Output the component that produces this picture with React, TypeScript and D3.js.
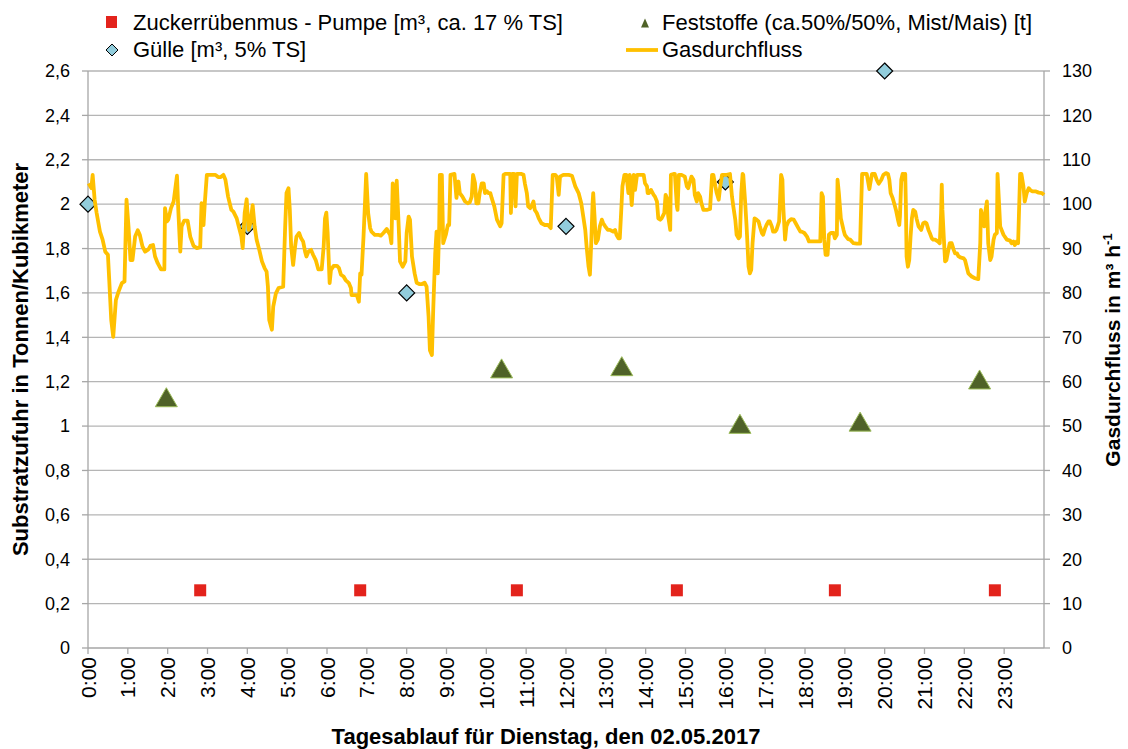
import React from "react";
import * as d3 from "d3";

// Zeit in Minuten ab 0:00
const pumpTimes = [169, 410, 646, 887, 1125, 1366];
const pumpValues = [0.26, 0.26, 0.26, 0.26, 0.26, 0.26];

const guelleTimes = [0, 240, 480, 720, 960, 1200];
const guelleValues = [2.0, 1.9, 1.6, 1.9, 2.1, 2.6];

const solidTimes = [118, 623, 804, 982, 1163, 1343];
const solidValues = [1.13, 1.26, 1.27, 1.01, 1.02, 1.21];

// Gasdurchfluss [Minute, m³/h]
const gasFlow: [number, number][] = [
  [1,104.7],[5,103.6],[7,106.6],[10,101.0],[13,98.0],[18,93.8],[22,92.0],[26,89.3],[30,88.6],[32,82.9],[35,73.9],[38,70.1],[42,78.4],[46,80.3],[51,82.2],[55,82.6],[58,101.0],[61,95.0],[64,87.4],[67,87.4],[71,92.7],[75,94.1],[78,93.1],[82,90.5],[86,89.3],[91,89.8],[94,90.6],[98,90.8],[101,88.2],[105,86.7],[110,85.3],[115,85.3],[116,99.1],[119,96.1],[121,96.5],[125,99.1],[129,100.6],[134,106.4],[136,98.7],[139,89.3],[141,95.0],[145,96.3],[150,96.3],[154,92.7],[159,90.6],[164,90.1],[169,90.3],[171,100.2],[174,95.3],[176,100.4],[179,106.6],[184,106.6],[189,106.6],[192,106.6],[196,106.1],[200,106.1],[204,106.6],[207,105.5],[211,101.7],[216,98.7],[219,98.3],[224,96.8],[227,95.0],[231,92.7],[233,90.1],[236,98.0],[239,101.1],[242,94.2],[245,96.1],[248,99.8],[251,95.0],[254,92.0],[258,89.7],[262,87.1],[266,85.6],[269,84.8],[271,81.4],[273,73.9],[277,71.7],[279,76.9],[283,79.9],[287,81.1],
  [294,81.4],[297,95.0],[299,102.5],[302,103.6],[304,98.7],[306,90.5],[309,86.3],[312,90.5],[314,92.7],[318,93.5],[321,92.3],[324,91.6],[327,89.3],[329,88.2],[332,89.3],[336,89.7],[339,88.6],[343,87.4],[347,85.3],[352,85.3],[355,90.5],[357,96.8],[359,98.1],[361,93.5],[364,82.2],[366,85.2],[370,86.1],[375,86.1],[378,85.6],[381,84.1],[385,83.7],[388,82.9],[393,82.2],[396,81.1],[397,79.5],[405,79.5],[408,78.0],[410,84.4],[412,84.1],[415,92.7],[417,99.5],[419,106.8],[422,98.0],[425,94.6],[427,93.8],[432,93.1],[437,93.1],[441,92.9],[445,93.5],[450,94.4],[455,93.1],[457,91.2],[459,104.7],[463,96.8],[465,105.3],[468,95.0],[470,87.1],[474,85.9],[478,87.1],[480,93.5],[483,97.2],[485,96.5],[488,88.2],[492,84.4],[495,82.3],[499,82.0],[503,82.0],[507,82.3],[510,81.4],[513,74.7],[515,67.1],[518,66.0],[520,76.2],[523,88.9],[525,93.8],[527,84.4],[529,95.0],[530,106.6],[533,106.6],[535,91.2],[539,93.1],[542,95.3],[544,95.3],[546,106.6],[552,106.8],[555,101.4],[558,105.1],[560,102.5],[564,101.7],[568,100.6],[572,100.2],[575,100.4],
  [578,101.7],[580,106.6],[583,104.7],[585,100.2],[588,100.2],[590,102.5],[593,104.7],[596,104.7],[598,102.5],[601,102.9],[603,102.5],[606,102.5],[608,101.4],[612,99.5],[616,96.5],[621,95.0],[623,95.7],[626,106.6],[628,106.8],[633,106.8],[636,106.8],[637,98.0],[639,106.8],[642,106.8],[644,99.5],[646,106.8],[649,106.8],[653,106.8],[656,106.6],[658,104.7],[661,102.5],[663,99.5],[666,99.1],[668,99.5],[671,100.6],[673,98.7],[676,98.0],[679,96.8],[683,95.7],[688,95.3],[693,95.3],[697,94.6],[700,106.6],[704,106.6],[706,106.2],[709,102.1],[711,106.2],[716,106.6],[724,106.6],[729,106.4],[734,104.0],[739,102.5],[743,100.2],[746,97.2],[749,94.2],[751,90.5],[754,85.9],[756,84.1],[758,91.2],[760,100.2],[761,102.5],[763,97.2],[765,91.2],[768,92.0],[771,95.0],[774,96.5],[776,95.7],[779,95.0],[783,94.2],[786,94.2],[791,93.8],[794,94.2],[796,93.1],[799,92.3],[801,92.3],[803,98.0],[805,104.0],[808,106.6],[811,106.6],[814,102.5],[816,106.6],[819,99.8],[822,106.6],[824,103.2],[827,106.6],[832,106.6],[837,106.6],[839,104.7],[842,104.0],[843,102.5],[845,102.5],[848,103.2],[852,102.1],[854,101.7],[857,100.6],[859,96.8],[862,96.5],
  [864,96.8],[868,98.0],[870,102.1],[872,101.4],[874,97.2],[877,94.2],[878,106.6],[882,106.8],[884,106.8],[887,99.5],[888,98.7],[890,106.6],[894,106.6],[899,106.2],[902,104.0],[904,103.6],[909,106.2],[912,105.5],[914,102.1],[917,100.6],[919,102.5],[922,101.7],[924,100.2],[927,98.7],[932,98.7],[937,98.9],[940,106.6],[942,106.6],[945,104.0],[947,102.5],[950,101.0],[952,103.6],[955,106.6],[962,106.6],[967,106.8],[970,101.7],[972,99.5],[975,96.5],[977,93.1],[980,92.3],[982,92.7],[984,102.5],[986,106.8],[987,106.6],[990,100.2],[992,95.0],[995,85.9],[997,84.4],[999,85.2],[1001,91.2],[1004,96.8],[1007,96.5],[1010,96.1],[1012,95.0],[1015,93.5],[1017,93.1],[1020,94.6],[1022,95.3],[1025,96.1],[1027,96.1],[1030,95.0],[1032,93.8],[1035,93.8],[1037,94.2],[1041,96.1],[1044,106.6],[1046,105.5],[1047,100.2],[1050,92.0],[1052,95.0],[1055,96.1],[1059,96.6],[1063,96.5],[1066,95.7],[1070,94.6],[1073,93.8],[1075,93.8],[1079,93.5],[1083,92.7],[1086,91.6],[1090,91.6],[1095,91.6],[1103,91.6],[1105,102.5],[1107,101.7],[1109,92.0],[1111,88.6],[1114,88.6],[1116,93.1],[1119,93.5],[1123,93.5],[1125,92.3],[1128,93.1],[1129,105.5],[1131,102.5],[1134,96.8],[1138,94.2],[1140,93.1],[1145,92.1],[1148,92.0],
  [1153,91.2],[1158,91.1],[1163,91.1],[1164,96.5],[1166,106.8],[1170,106.8],[1173,106.8],[1177,103.4],[1178,104.4],[1181,106.8],[1185,106.8],[1188,105.5],[1191,104.6],[1195,105.5],[1198,106.6],[1202,107.0],[1205,106.8],[1207,105.5],[1209,102.5],[1212,101.4],[1215,99.8],[1217,98.7],[1220,96.5],[1222,95.3],[1223,97.2],[1225,105.5],[1227,106.8],[1228,106.8],[1230,105.5],[1231,106.8],[1232,99.5],[1233,88.2],[1235,85.9],[1237,87.4],[1239,92.7],[1241,96.8],[1243,98.7],[1246,98.3],[1248,96.8],[1251,95.0],[1255,94.2],[1258,95.7],[1261,95.9],[1263,95.7],[1266,94.2],[1268,93.5],[1271,92.3],[1273,92.0],[1276,92.0],[1280,91.6],[1283,91.2],[1285,98.0],[1286,104.4],[1287,98.7],[1289,92.7],[1291,87.1],[1293,87.4],[1296,89.7],[1298,91.2],[1301,91.2],[1304,89.7],[1306,88.9],[1309,88.9],[1311,88.3],[1314,88.0],[1319,87.8],[1321,87.4],[1324,85.6],[1326,84.4],[1331,83.7],[1336,83.3],[1341,83.1],[1344,91.2],[1345,98.7],[1348,96.8],[1350,95.0],[1352,98.7],[1354,100.6],[1356,91.2],[1359,87.4],[1361,88.2],[1364,92.0],[1366,93.1],[1369,93.5],[1370,106.8],[1372,101.0],[1374,95.0],[1379,93.1],[1384,92.0],[1389,91.8],[1391,91.2],[1394,91.6],[1396,90.8],[1399,91.6],[1401,91.2],[1404,106.8],[1406,106.8],[1409,104.0],[1411,100.6],[1414,102.5],[1417,103.6],[1419,103.2],[1422,102.9],[1427,102.9],[1432,102.6],[1437,102.5],[1440,102.1]
];

const hourLabels = ["0:00","1:00","2:00","3:00","4:00","5:00","6:00","7:00","8:00","9:00","10:00","11:00",
  "12:00","13:00","14:00","15:00","16:00","17:00","18:00","19:00","20:00","21:00","22:00","23:00"];
const leftTicks = [0, 0.2, 0.4, 0.6, 0.8, 1, 1.2, 1.4, 1.6, 1.8, 2, 2.2, 2.4, 2.6];
const leftTickLabels = ["0","0,2","0,4","0,6","0,8","1","1,2","1,4","1,6","1,8","2","2,2","2,4","2,6"];
const rightTicks = [0, 10, 20, 30, 40, 50, 60, 70, 80, 90, 100, 110, 120, 130];

const FONT = "'Liberation Sans', Arial, sans-serif";
const GRID = "#b5b5b5";
const AXIS = "#a6a6a6";
const GAS = "#ffc000";

export default function App() {
  const left = 88, right = 1044, top = 71, bottom = 648;

  const x = d3.scaleLinear().domain([0, 1440]).range([left, right]);
  const yL = d3.scaleLinear().domain([0, 2.6]).range([bottom, top]);
  const yR = d3.scaleLinear().domain([0, 130]).range([bottom, top]);

  const line = d3.line<[number, number]>()
    .x(d => x(d[0]))
    .y(d => yR(d[1]));

  const diamond = (cx: number, cy: number, r: number) =>
    `M${cx},${cy - r}L${cx + r},${cy}L${cx},${cy + r}L${cx - r},${cy}Z`;
  const triangle = (cx: number, cy: number, w: number, h: number) =>
    `M${cx},${cy - h / 2}L${cx + w / 2},${cy + h / 2}L${cx - w / 2},${cy + h / 2}Z`;

  return (
    <svg width={1128} height={749} style={{position: "absolute", left: 0, top: 0}} fontFamily={FONT}>
      <rect width={1128} height={749} fill="#fff" />

      {/* Gitternetz */}
      {leftTicks.filter(v => v > 0).map(v => (
        <line key={"g" + v} x1={left} x2={right} y1={yL(v)} y2={yL(v)} stroke={GRID} strokeWidth={1.3} />
      ))}

      {/* Achsen */}
      <line x1={left} x2={left} y1={top} y2={bottom} stroke={AXIS} strokeWidth={1.3} />
      <line x1={right} x2={right} y1={top} y2={bottom} stroke={AXIS} strokeWidth={1.3} />
      <line x1={left} x2={right} y1={bottom} y2={bottom} stroke={AXIS} strokeWidth={1.3} />

      {leftTicks.map((v, i) => (
        <g key={"l" + v}>
          <line x1={left - 6} x2={left} y1={yL(v)} y2={yL(v)} stroke={AXIS} strokeWidth={1.3} />
          <text x={70} y={yL(v)} dy="0.35em" textAnchor="end" fontSize={18} fill="#000">{leftTickLabels[i]}</text>
        </g>
      ))}
      {rightTicks.map(v => (
        <g key={"r" + v}>
          <line x1={right} x2={right + 6} y1={yR(v)} y2={yR(v)} stroke={AXIS} strokeWidth={1.3} />
          <text x={1062} y={yR(v)} dy="0.35em" textAnchor="start" fontSize={18} fill="#000">{v}</text>
        </g>
      ))}
      {hourLabels.map((lab, i) => {
        const tx = x(i * 60);
        return (
          <g key={lab}>
            <line x1={tx} x2={tx} y1={bottom} y2={bottom + 6} stroke={AXIS} strokeWidth={1.3} />
            <text transform={`translate(${tx},${bottom + 9}) rotate(-90)`} dy="0.36em" textAnchor="end"
              fontSize={21} fill="#000">{lab}</text>
          </g>
        );
      })}

      {/* Achsentitel */}
      <text transform={`translate(20,${(top + bottom) / 2}) rotate(-90)`} dy="0.35em" textAnchor="middle"
        fontSize={22} fontWeight="bold">Substratzufuhr in Tonnen/Kubikmeter</text>
      <text transform={`translate(1113,350) rotate(-90)`} dy="0.35em" textAnchor="middle"
        fontSize={21} fontWeight="bold">Gasdurchfluss in m³ h<tspan fontSize={13} dy="-8">-1</tspan></text>
      <text x={546} y={744} textAnchor="middle" fontSize={22} fontWeight="bold">Tagesablauf für Dienstag, den 02.05.2017</text>

      {/* Punkte */}
      {pumpTimes.map((t, i) => (
        <rect key={"p" + i} x={x(t) - 6} y={yL(pumpValues[i]) - 6} width={12} height={12} fill="#e3231c" />
      ))}
      {solidTimes.map((t, i) => (
        <path key={"s" + i} d={triangle(x(t), yL(solidValues[i]), 22, 19)} fill="#4f6228" stroke="#9bbb59" strokeWidth={1} />
      ))}
      {guelleTimes.map((t, i) => (
        <path key={"d" + i} d={diamond(x(t), yL(guelleValues[i]), 8)} fill="#92cddc" stroke="#000" strokeWidth={1.2} />
      ))}

      {/* Gasdurchfluss */}
      <path d={line(gasFlow) || ""} fill="none" stroke={GAS} strokeWidth={3.8} strokeLinejoin="round" />

      {/* Legende */}
      <rect x={106} y={16} width={11} height={12} fill="#e3231c" />
      <text x={133} y={30} fontSize={22}>Zuckerrübenmus - Pumpe [m³, ca. 17 % TS]</text>
      <path d={triangle(645, 23, 8, 9)} fill="#4f6228" />
      <text x={662} y={30} fontSize={22}>Feststoffe (ca.50%/50%, Mist/Mais) [t]</text>
      <path d={diamond(112, 50, 6)} fill="#92cddc" stroke="#000" strokeWidth={1} />
      <text x={133} y={57} fontSize={22}>Gülle [m³, 5% TS]</text>
      <line x1={626} x2={658} y1={50} y2={50} stroke={GAS} strokeWidth={3.8} />
      <text x={662} y={57} fontSize={22}>Gasdurchfluss</text>
    </svg>
  );
}
